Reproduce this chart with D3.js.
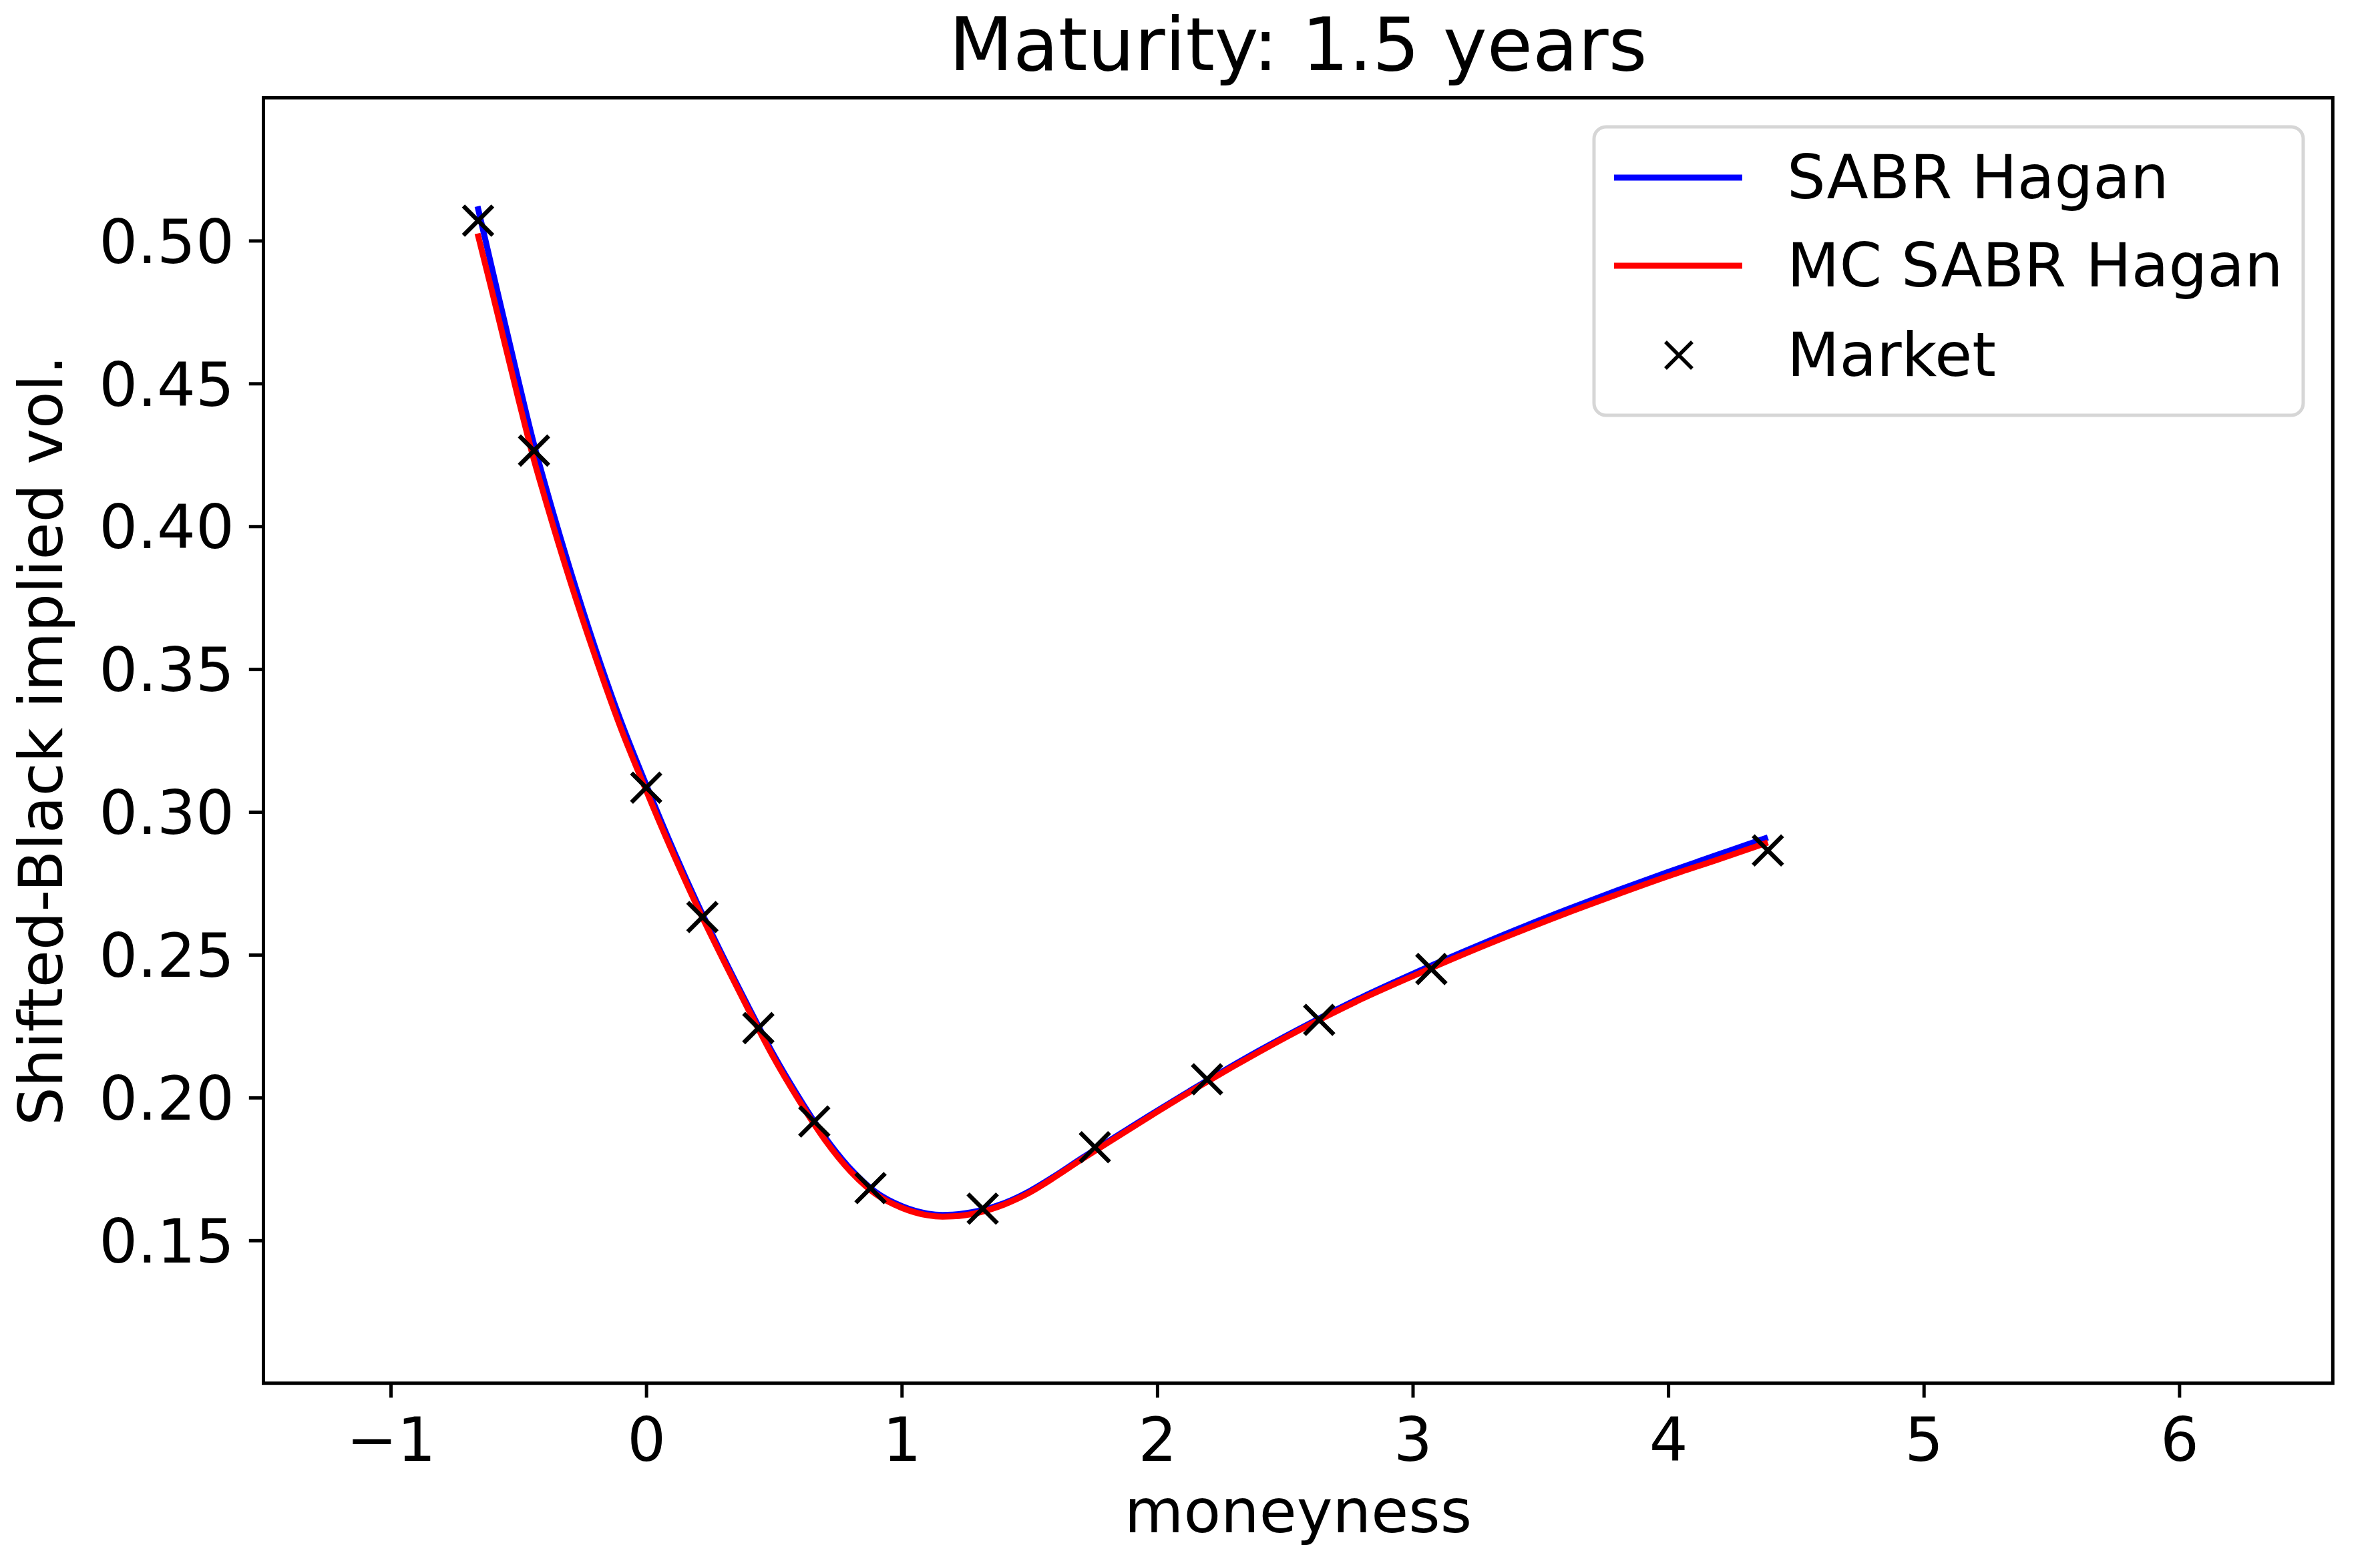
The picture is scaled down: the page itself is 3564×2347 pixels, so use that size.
<!DOCTYPE html>
<html>
<head>
<meta charset="utf-8">
<script src="https://cdn.jsdelivr.net/npm/d3@7"></script>
<style>
    html, body { margin: 0; padding: 0; background: #fff; }
    text { font-family: "DejaVu Sans", sans-serif; fill: #000; }
</style>
</head>
<body>
<div class="canvas"></div>
<script>
// DATA

const title = 'Maturity: 1.5 years';
const xLabel = 'moneyness';
const yLabel = 'Shifted-Black implied vol.';
const seriesNames = ['SABR Hagan', 'MC SABR Hagan', 'Market'];

const xTicks = [-1, 0, 1, 2, 3, 4, 5, 6];
const yTicks = [0.15, 0.20, 0.25, 0.30, 0.35, 0.40, 0.45, 0.50];

// model curves (moneyness grid)
const curveX = [-0.66, -0.60, -0.50, -0.44, -0.40, -0.30, -0.20, -0.10, 0.00, 0.10,
    0.20, 0.30, 0.40, 0.50, 0.60, 0.70, 0.80, 0.90, 1.00, 1.10,
    1.16, 1.20, 1.30, 1.40, 1.50, 1.60, 1.70, 1.80, 2.00, 2.20,
    2.40, 2.60, 2.80, 3.00, 3.20, 3.40, 3.60, 3.80, 4.00, 4.20, 4.39];

const hagan = [0.5120, 0.4890, 0.4510, 0.4290, 0.4160, 0.3855, 0.3575, 0.3320, 0.3095, 0.2880,
    0.2680, 0.2495, 0.2318, 0.2148, 0.1997, 0.1861, 0.1750, 0.1668, 0.1620, 0.1594,
    0.1589, 0.1590, 0.1603, 0.1630, 0.1672, 0.1726, 0.1785, 0.1842, 0.1954, 0.2062,
    0.2165, 0.2261, 0.2351, 0.2433, 0.2511, 0.2586, 0.2657, 0.2725, 0.2790, 0.2852, 0.2911];

const mcHagan = [0.5025, 0.4810, 0.4445, 0.4235, 0.4110, 0.3815, 0.3545, 0.3295, 0.3075, 0.2865,
    0.2668, 0.2485, 0.2308, 0.2138, 0.1987, 0.1851, 0.1741, 0.1661, 0.1614, 0.1588,
    0.1583, 0.1584, 0.1597, 0.1625, 0.1667, 0.1722, 0.1781, 0.1838, 0.1950, 0.2058,
    0.2160, 0.2256, 0.2345, 0.2425, 0.2502, 0.2575, 0.2645, 0.2711, 0.2775, 0.2835, 0.2893];

// market quotes
const marketX = [-0.658, -0.439, 0.000, 0.220, 0.439, 0.658, 0.878, 1.317, 1.756, 2.195, 2.634, 3.073, 4.390];
const marketVol = [0.5070, 0.4265, 0.3085, 0.2632, 0.2243, 0.1916, 0.1683, 0.1611, 0.1826, 0.2064, 0.2272, 0.2450, 0.2865];


// PLOTTING

const W = 3564, H = 2347;
const box = { left: 394.5, top: 146.5, right: 3493.3, bottom: 2071.7 };
const fs = 91;          // base font size
const tickLen = 21.7;
const lw = 5;           // spine / tick width

const svg = d3.select('.canvas').append('svg')
    .attr('width', W)
    .attr('height', H)
    .style('display', 'block');

svg.append('rect')
    .attr('width', W)
    .attr('height', H)
    .attr('fill', '#fff');

const x = d3.scaleLinear().domain([-1.498, 6.601]).range([box.left, box.right]);
const y = d3.scaleLinear().domain([0.100, 0.550]).range([box.bottom, box.top]);


// AXES
const xAxis = svg.append('g')
    .attr('transform', `translate(0,${box.bottom})`)
    .call(d3.axisBottom(x).tickValues(xTicks).tickSize(tickLen).tickPadding(30).tickFormat(d3.format('d')));

const yAxis = svg.append('g')
    .attr('transform', `translate(${box.left},0)`)
    .call(d3.axisLeft(y).tickValues(yTicks).tickSize(tickLen).tickPadding(22).tickFormat(d3.format('.2f')));

[xAxis, yAxis].forEach(a => {
    a.select('.domain').remove();
    a.selectAll('line').attr('stroke', '#000').attr('stroke-width', lw);
    a.selectAll('text')
        .style('font-family', '"DejaVu Sans", sans-serif')
        .style('font-size', fs + 'px')
        .attr('fill', '#000');
});
yAxis.selectAll('text').attr('dy', '0.36em');


// CURVES
const line = (ys) => d3.line()
    .x((d, i) => x(curveX[i]))
    .y(d => y(d))
    .curve(d3.curveMonotoneX)(ys);

svg.append('path')
    .attr('d', line(hagan))
    .attr('fill', 'none')
    .attr('stroke', '#0000ff')
    .attr('stroke-width', 9);

svg.append('path')
    .attr('d', line(mcHagan))
    .attr('fill', 'none')
    .attr('stroke', '#ff0000')
    .attr('stroke-width', 9);


// MARKET MARKERS
const cross = (g, cx, cy, r, w) => {
    g.append('path')
        .attr('d', `M${cx - r},${cy - r}L${cx + r},${cy + r}M${cx - r},${cy + r}L${cx + r},${cy - r}`)
        .attr('stroke', '#000')
        .attr('stroke-width', w)
        .attr('fill', 'none');
};

const marks = svg.append('g');
marketX.forEach((m, i) => cross(marks, x(m), y(marketVol[i]), 22, 6.5));


// FRAME
svg.append('rect')
    .attr('x', box.left)
    .attr('y', box.top)
    .attr('width', box.right - box.left)
    .attr('height', box.bottom - box.top)
    .attr('fill', 'none')
    .attr('stroke', '#000')
    .attr('stroke-width', lw);


// LABELS
svg.append('text')
    .attr('x', (box.left + box.right) / 2)
    .attr('y', 105)
    .attr('text-anchor', 'middle')
    .style('font-size', '111px')
    .text(title);

svg.append('text')
    .attr('x', (box.left + box.right) / 2)
    .attr('y', 2295)
    .attr('text-anchor', 'middle')
    .style('font-size', fs + 'px')
    .text(xLabel);

svg.append('text')
    .attr('transform', `translate(93,${(box.top + box.bottom) / 2}) rotate(-90)`)
    .attr('text-anchor', 'middle')
    .style('font-size', fs + 'px')
    .text(yLabel);


// LEGEND
const legend = svg.append('g');

legend.append('rect')
    .attr('x', 2387)
    .attr('y', 190)
    .attr('width', 1062)
    .attr('height', 432)
    .attr('rx', 18)
    .attr('fill', '#fff')
    .attr('fill-opacity', 0.8)
    .attr('stroke', '#d6d6d6')
    .attr('stroke-width', 5);

const rowY = [266, 398, 532];
const swatch = ['#0000ff', '#ff0000', null];

seriesNames.forEach((name, i) => {
    if (swatch[i]) {
        legend.append('line')
            .attr('x1', 2417).attr('x2', 2609)
            .attr('y1', rowY[i]).attr('y2', rowY[i])
            .attr('stroke', swatch[i])
            .attr('stroke-width', 9);
    } else {
        cross(legend, 2514, rowY[i], 20, 5.5);
    }
    legend.append('text')
        .attr('x', 2676)
        .attr('y', rowY[i] + 31)
        .style('font-size', fs + 'px')
        .text(name);
});
</script>
</body>
</html>
